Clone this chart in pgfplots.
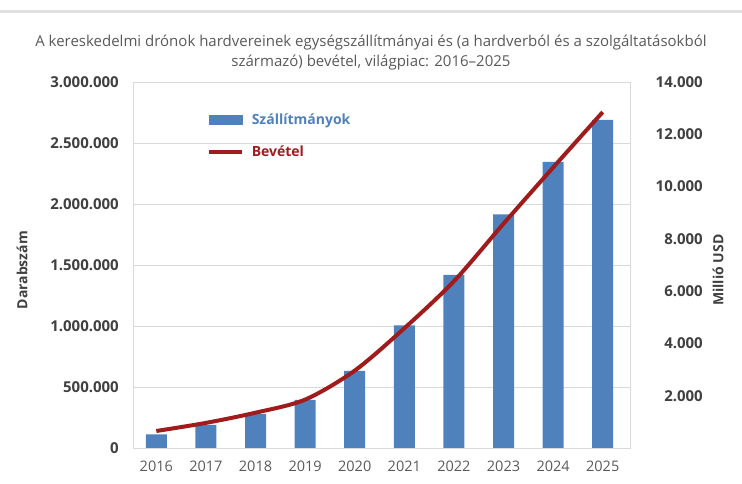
\documentclass[border=0pt]{standalone}
\usepackage{pgfplots}
\pgfplotsset{compat=1.18}
\usepackage{fontspec}
\setmainfont{Open Sans}
\definecolor{barblue}{HTML}{4F81BD}
\definecolor{linered}{HTML}{A01C1C}
\definecolor{ticktxt}{HTML}{404040}
\definecolor{yeartxt}{HTML}{595959}
\definecolor{gridc}{HTML}{D9D9D9}
\pgfplotsset{common/.style={
  scale only axis, width=497pt, height=366pt,
  xmin=-0.47, xmax=9.55, ymin=0,
  major tick length=0pt, scaled y ticks=false,
}}
\begin{document}
\begin{tikzpicture}
\begin{axis}[common, name=ax,
  ymax=3000000,
  xtick={0,...,9}, xticklabels={2016,2017,2018,2019,2020,2021,2022,2023,2024,2025},
  ytick={0,500000,1000000,1500000,2000000,2500000,3000000},
  yticklabels={0,500.000,1.000.000,1.500.000,2.000.000,2.500.000,3.000.000},
  ymajorgrids, grid style={gridc, line width=0.8pt},
  axis line style={gridc, line width=0.8pt},
  yticklabel style={font=\fontsize{15}{15}\selectfont\bfseries, text=ticktxt, inner sep=0pt, anchor=east, xshift=-14pt},
  xticklabel style={font=\fontsize{14.5}{14.5}\selectfont, text=yeartxt, inner sep=0pt, anchor=north, yshift=-13pt},
  ylabel={Darabszám},
  ylabel style={font=\fontsize{14}{14}\selectfont\bfseries, text=ticktxt, at={(axis description cs:-0.2233,0.486)}, anchor=center},
  ybar, bar width=21pt,
]
\addplot[fill=barblue, draw=none] coordinates {
 (0,112000) (1,190000) (2,280000) (3,395000) (4,633000)
 (5,1005000) (6,1420000) (7,1915000) (8,2345000) (9,2690000)};
\end{axis}
\begin{axis}[common,
  ymax=14000,
  axis x line=none, axis y line*=right,
  y axis line style={draw=none},
  ytick={2000,4000,6000,8000,10000,12000,14000},
  yticklabels={2.000,4.000,6.000,8.000,10.000,12.000,14.000},
  yticklabel style={font=\fontsize{15}{15}\selectfont\bfseries, text=ticktxt, inner sep=0pt, anchor=east, xshift=73pt},
  ylabel={Millió USD},
  ylabel style={font=\fontsize{14}{14}\selectfont\bfseries, text=ticktxt, at={(axis description cs:1.177,0.486)}, anchor=center, rotate=0},
  legend style={at={(0.149,0.914)}, anchor=north west, draw=none, fill=none, inner sep=0pt,
    font=\fontsize{14}{14}\selectfont\bfseries, row sep=20pt,
    nodes={inner sep=0pt},
    /tikz/every odd column/.append style={column sep=8pt}},
  legend cell align=left,
]
\addlegendimage{legend image code/.code={\fill[barblue] (0pt,-4.5pt) rectangle (33pt,4.5pt);}}
\addlegendentry{\textcolor{barblue}{Szállítmányok}}
\addlegendimage{legend image code/.code={\draw[linered,line width=3.5pt] (0pt,0pt) -- (33pt,0pt);}}
\addlegendentry{\textcolor{linered}{Bevétel}}
\addplot[linered, line width=4pt, smooth, forget plot] coordinates {
 (0,650) (1,960) (2,1350) (3,1850) (4,2960) (5,4580)
 (6,6380) (7,8580) (8,10730) (9,12850)};
\end{axis}
\path ([shift={(-133pt,-36pt)}]ax.south west) coordinate (O);
\draw[black!12, line width=3pt] ([shift={(0pt,472pt)}]O) -- ++(742pt,0pt);
\node[text=yeartxt, font=\fontsize{15}{19.5}\selectfont, align=center] at ([shift={(371pt,431.5pt)}]O)
  {A kereskedelmi drónok hardvereinek egységszállítmányai és (a hardverból és a szolgáltatásokból\\ származó) bevétel, világpiac: 2016--2025};
\pgfresetboundingbox
\useasboundingbox (O) rectangle ([shift={(742pt,484pt)}]O);
\end{tikzpicture}
\end{document}
